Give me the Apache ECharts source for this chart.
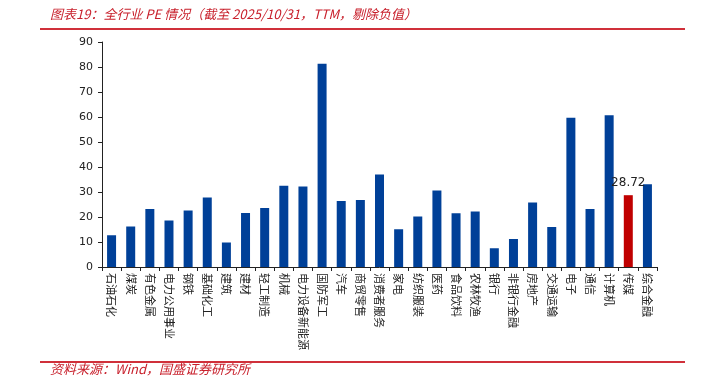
<!DOCTYPE html>
<html>
<head>
<meta charset="utf-8">
<script src="https://cdn.jsdelivr.net/npm/echarts@6/dist/echarts.min.js"></script>
<style>
html,body{margin:0;padding:0;background:#fff;}
#chart{width:704px;height:385px;}
</style>
</head>
<body>
<div id="chart"></div>
<script>
var categories = ['石油石化','煤炭','有色金属','电力公用事业','钢铁','基础化工','建筑','建材','轻工制造','机械','电力设备新能源','国防军工','汽车','商贸零售','消费者服务','家电','纺织服装','医药','食品饮料','农林牧渔','银行','非银行金融','房地产','交通运输','电子','通信','计算机','传媒','综合金融'];
var peValues = [12.7,16.2,23.2,18.6,22.6,27.8,9.8,21.6,23.6,32.5,32.2,81.3,26.4,26.8,37.0,15.1,20.2,30.6,21.5,22.2,7.5,11.2,25.8,16.0,59.7,23.2,60.7,28.72,33.1];
var highlightCategory = '传媒';
var yTicks = [0,10,20,30,40,50,60,70,80,90];

var blue = '#004098', red = '#C00000';
var seriesData = peValues.map(function(v,i){
  if (categories[i] === highlightCategory) {
    return {value:v, itemStyle:{color:red},
      label:{show:true, position:'top', formatter:'{c}', color:'#222', fontSize:12, fontFamily:'DejaVu Sans', distance:6}};
  }
  return {value:v};
});

var chart = echarts.init(document.getElementById('chart'));
chart.setOption({
  animation:false,
  backgroundColor:'#fff',
  grid:{left:102, right:47, top:42, bottom:118, containLabel:false},
  xAxis:{
    type:'category',
    data:categories,
    axisLine:{lineStyle:{color:'#222', width:1}},
    axisTick:{show:true, length:4, lineStyle:{color:'#222'}},
    axisLabel:{rotate:-90, interval:0, fontSize:11, color:'#222', fontFamily:'Noto Sans CJK SC', margin:6}
  },
  yAxis:{
    type:'value', min:yTicks[0], max:yTicks[yTicks.length-1], interval:10,
    axisLine:{show:true, lineStyle:{color:'#222', width:1}},
    axisTick:{show:true, length:4, lineStyle:{color:'#222'}},
    splitLine:{show:false},
    axisLabel:{fontSize:11, color:'#222', fontFamily:'DejaVu Sans', margin:9}
  },
  series:[{
    type:'bar', data:seriesData, barWidth:9,
    itemStyle:{color:blue}
  }],
  graphic:[
    {type:'text', left:50, top:8, style:{text:'图表19：全行业 PE 情况（截至 2025/10/31，TTM，剔除负值）', fill:'#C8202C', font:'italic 13px "Noto Sans CJK SC"'}},
    {type:'rect', shape:{x:40, y:28, width:645, height:2}, style:{fill:'#D0303A'}},
    {type:'rect', shape:{x:40, y:361, width:645, height:2}, style:{fill:'#D0303A'}},
    {type:'text', left:50, top:363, style:{text:'资料来源：Wind，国盛证券研究所', fill:'#C8202C', font:'italic 13px "Noto Sans CJK SC"'}}
  ]
});
</script>
</body>
</html>
